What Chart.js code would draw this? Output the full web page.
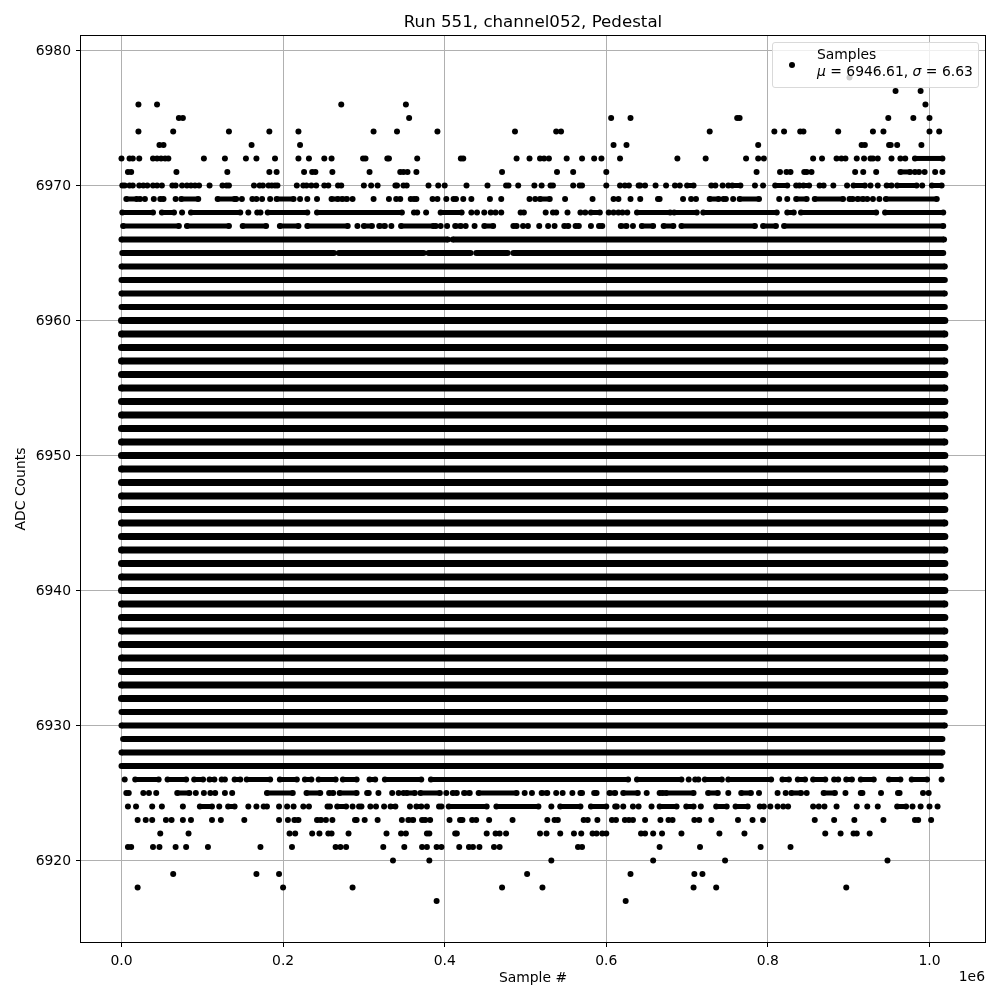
<!DOCTYPE html>
<html>
<head>
<meta charset="utf-8">
<title>Run 551, channel052, Pedestal</title>
<script src="https://cdn.jsdelivr.net/npm/chart.js@4/dist/chart.umd.min.js"></script>
<style>
  body { margin: 0; background: #fff; font-family: "DejaVu Sans", sans-serif; color: #000; }
  #wrap { position: relative; width: 1000px; height: 1000px; }
  #legend {
    position: absolute; left: 772px; top: 42px; width: 205px; height: 44px;
    background: rgba(255, 255, 255, 0.8); border: 1px solid #d9d9d9; border-radius: 3px;
    font-size: 13.9px; line-height: 17px;
  }
  #legend .dot { position: absolute; left: 16px; top: 19px; width: 6px; height: 6px; border-radius: 50%; background: #000; }
  #legend .txt { position: absolute; left: 44px; top: 3px; white-space: nowrap; }
  #offset { position: absolute; right: 15px; top: 968px; font-size: 13.9px; }
</style>
</head>
<body>
<div id="wrap">
  <canvas id="chart" width="1000" height="1000"></canvas>
  <div id="legend">
    <span class="dot"></span>
    <div class="txt">Samples<br><i>μ</i> = 6946.61, <i>σ</i> = 6.63</div>
  </div>
  <div id="offset">1e6</div>
</div>
<script>
// Sample positions are in thousands.
// A plain number is a lone dot, a pair [a, b] is a stretch where dots merge.
const xTicks = [0, 200000, 400000, 600000, 800000, 1000000];
const yTicks = [6920, 6930, 6940, 6950, 6960, 6970, 6980];

const adc6978 = [901];
const adc6977 = [958, 989];
const adc6976 = [21, 44, 272, 352, 995];
const adc6975 = [71, 76, 356, 606, 630, 762, 765, 949, 980, 1000];
const adc6974 = [21, 64, 133, 183, 219, 312, 341, 391, 487, 538, 544, 728, 808, 820, 840, 844, 887, 930, 943, 1000, 1012];
const adc6973 = [47, 52, 161, 221, 609, 625, 788, 916, 920, 950, 952, 960, 990];
const adc6972 = [0, 10, 14, 22, 39, 44, 49, 54, 58, 102, 128, 154, 167, 190, 219, 232, 251, 260, 299, 302, 329, 331, 366, 420, 423, 489, 505, 518, 523, 529, 551, 570, 585, 594, 617, 688, 723, 773, 788, 795, 856, 867, 885, 891, 896, 910, 919, 927, 930, 936, 953, 964, 970, [982, 1016]];
const adc6971 = [8, 12, 68, 131, 183, 192, 226, 236, 240, 261, 307, 345, 349, 354, 365, 471, 539, 559, 600, 786, 815, 823, 828, 845, 848, 854, 908, 918, 934, [964, 976], 982, 987, 994, 1007, 1016];
const adc6970 = [1, 4, 10, 14, 22, 27, 32, 39, 44, 50, 63, 67, 75, 81, 86, 91, 96, 109, 125, 130, 133, 164, 171, 175, 182, 186, 190, 193, 217, 225, 229, 235, 241, 251, 256, 268, 272, 300, 309, 317, 339, 341, 349, 353, 380, 392, 400, 427, 453, 476, 479, 491, 511, 520, 531, 534, 559, 567, 570, 600, 617, 623, 628, 640, 642, 648, 661, 674, 685, 691, [700, 708], 730, 735, 744, 751, [756, 766], 784, 794, [809, 824], [835, 839], [844, 851], [864, 869], 881, 898, [906, 920], 927, 936, [947, 953], [960, 984], 991, [1003, 1015]];
const adc6969 = [[6, 19], 23, 29, 40, [48, 52], 67, [74, 95], [119, 140], 142, 149, 162, 167, 174, 184, [192, 213], 221, 230, 242, [260, 268], [273, 279], 286, 312, 331, 340, 345, 358, 362, 365, 385, 391, 402, 411, 414, 423, 433, 456, 470, 505, 512, [518, 530], 549, 583, 609, 615, 630, 642, 664, 666, 695, 705, 711, [728, 739], 745, 748, 757, [765, 789], 814, 824, [835, 848], [858, 893], [901, 905], [911, 918], 923, 930, 938, [946, 1009]];
const adc6968 = [[1, 39], [50, 65], 75, [86, 147], 157, [168, 172], [181, 230], [242, 347], [362, 366], 377, [395, 421], 433, 440, 449, 457, 463, 470, [494, 498], 525, 534, 538, 552, 568, 574, [581, 592], 603, 609, 615, 620, 626, [638, 679], [684, 712], [720, 811], [824, 832], [841, 934], [945, 1017]];
const adc6967 = [[2, 71], [81, 133], [150, 179], [196, 219], [230, 280], 292, [300, 310], [319, 326], 334, [346, 386], 389, 395, 403, [413, 420], 426, 437, [449, 460], [485, 489], 497, 503, 517, 528, 536, [548, 553], [562, 566], 581, [591, 595], [618, 625], 633, [644, 658], [671, 683], [693, 784], [794, 810], [820, 1017]];
const adc6966 = [[0, 404], [410, 1018]];
const adc6965 = [[1, 263], [269, 374], [380, 432], [439, 478], [485, 1017]];
const adc6964 = [[0, 1019]];
const adc6963 = [[0, 1019]];
const adc6962 = [[0, 1019]];
const adc6961 = [[0, 1019]];
// rows 6932..6960 are solid from one end to the other
const solidRows = [6960, 6959, 6958, 6957, 6956, 6955, 6954, 6953, 6952, 6951, 6950, 6949, 6948, 6947, 6946, 6945, 6944, 6943, 6942, 6941, 6940, 6939, 6938, 6937, 6936, 6935, 6934, 6933, 6932];
const solidSpan = [[0, 1019]];
const adc6931 = [[0, 1019]];
const adc6930 = [[0, 1019]];
const adc6929 = [[2, 1016]];
const adc6928 = [[0, 1016]];
const adc6927 = [[0, 1014]];
const adc6926 = [4, [17, 46], [57, 80], [90, 101], [109, 115], [124, 128], [140, 147], [155, 184], [196, 217], [227, 235], [244, 265], [274, 291], [307, 314], [326, 371], [383, 627], [638, 693], 702, [710, 714], [722, 743], [751, 804], [818, 826], [837, 846], [856, 871], [882, 887], [897, 904], [915, 931], [950, 964], [978, 997], 1015];
const adc6925 = [6, 9, 27, 34, 43, [69, 84], 92, 102, 110, 116, 128, 137, [180, 212], [229, 246], [257, 262], [270, 291], [304, 306], 318, 335, 343, 349, [353, 363], [370, 394], 402, [410, 415], [424, 431], [442, 489], 499, 508, [520, 527], 538, 546, 558, [568, 570], [585, 588], [604, 611], [621, 639], 650, [666, 670], [674, 708], [726, 738], 751, [767, 779], 789, 812, 822, [829, 841], 848, [869, 883], 896, [915, 917], 940, [961, 963], 992, 999];
const adc6924 = [8, 18, 38, 50, 76, [97, 112], 121, [132, 140], 157, 167, [176, 180], 195, 205, 213, 225, 232, [255, 258], [267, 278], 286, 294, 297, 308, 315, 325, [333, 339], 357, [365, 371], 378, [393, 396], [405, 452], [464, 516], 532, [543, 568], [581, 600], [611, 613], 621, 633, 640, 656, [666, 687], [699, 708], 717, [736, 749], [760, 775], [790, 795], 803, 812, 819, 825, 856, 863, 870, 885, 910, 923, 936, [960, 971], 979, 989, 1000, 1010];
const adc6923 = [20, 30, 38, 55, 62, 76, 86, 112, 123, 152, 195, 206, [214, 219], [242, 247], 253, 261, [289, 291], 301, 317, 347, [355, 361], [372, 376], 382, 406, [419, 422], 434, 439, 455, 484, 527, 536, 540, 572, 577, 589, 607, 612, 623, 628, 633, 648, 667, 677, 682, 709, 715, 730, 763, 781, 794, 858, 882, 907, 943, 982, 986, 1002];
const adc6922 = [48, 83, 208, 215, 236, 245, 256, 260, 281, 328, 346, 352, 378, 381, 413, 415, 452, 463, 468, 476, 518, 526, 543, 560, 569, 583, 588, 595, 600, 643, 648, 658, 669, 693, 740, 771, 871, 890, 906, 910, 926];
const adc6921 = [8, 12, 39, 47, 67, 80, 107, 172, 211, 265, 271, 278, 324, 350, 372, 378, 390, 396, 418, 430, 435, 443, 461, 468, 565, 570, 666, 716, 791, 828];
const adc6920 = [336, 381, 532, 658, 747, 948];
const adc6919 = [64, 167, 195, 502, 630, 709, 719];
const adc6918 = [20, 200, 286, 471, 521, 708, 736, 897];
const adc6917 = [390, 624];

const rows = [
  [6978, adc6978], [6977, adc6977], [6976, adc6976], [6975, adc6975], [6974, adc6974],
  [6973, adc6973], [6972, adc6972], [6971, adc6971], [6970, adc6970], [6969, adc6969],
  [6968, adc6968], [6967, adc6967], [6966, adc6966], [6965, adc6965], [6964, adc6964],
  [6963, adc6963], [6962, adc6962], [6961, adc6961],
  ...solidRows.map(adc => [adc, solidSpan]),
  [6931, adc6931], [6930, adc6930], [6929, adc6929], [6928, adc6928], [6927, adc6927],
  [6926, adc6926], [6925, adc6925], [6924, adc6924], [6923, adc6923], [6922, adc6922],
  [6921, adc6921], [6920, adc6920], [6919, adc6919], [6918, adc6918], [6917, adc6917],
];

// Turn a row into line points, a null y breaks the line between stretches
function rowPoints(adc, marks) {
  const points = [];
  marks.forEach(mark => {
    const ends = Array.isArray(mark) ? mark : [mark];
    ends.forEach(k => points.push({ x: k * 1000, y: adc }));
    points.push({ x: ends[ends.length - 1] * 1000, y: null });
  });
  return points;
}

// merged dots pinch between each other, so sparse stretches read thinner than the dots
function rowWidth(adc) {
  if (adc >= 6932 && adc <= 6960) return 7;
  if ((adc >= 6961 && adc <= 6966) || (adc >= 6927 && adc <= 6931)) return 6;
  return 5;
}

const datasets = rows.map(([adc, marks]) => ({
  label: String(adc),
  data: rowPoints(adc, marks),
  borderColor: '#000',
  backgroundColor: '#000',
  borderWidth: rowWidth(adc),
  pointRadius: rowWidth(adc) === 7 ? 3.5 : 3,
  pointBorderWidth: 0,
  spanGaps: false,
  tension: 0,
}));

const frame = {
  id: 'frame',
  afterDraw(chart) {
    const { ctx, chartArea: a } = chart;
    ctx.save();
    ctx.strokeStyle = '#000';
    ctx.lineWidth = 1;
    ctx.strokeRect(a.left - 0.5, a.top - 0.5, a.right - a.left + 1, a.bottom - a.top + 1);
    ctx.restore();
  },
};

const axisFont = { family: '"DejaVu Sans"', size: 13.9 };

new Chart(document.getElementById('chart'), {
  type: 'line',
  data: { datasets },
  plugins: [frame],
  options: {
    responsive: false,
    animation: false,
    layout: { padding: { right: 15 } },
    plugins: {
      legend: { display: false },
      tooltip: { enabled: false },
      title: {
        display: true,
        text: 'Run 551, channel052, Pedestal',
        fullSize: false,
        color: '#000',
        font: { family: '"DejaVu Sans"', size: 16.67, weight: 'normal' },
        padding: { top: 13, bottom: 3 },
      },
    },
    scales: {
      x: {
        type: 'linear',
        min: -50100,
        max: 1068700,
        afterFit: scale => { scale.height = 58; },
        afterBuildTicks: scale => { scale.ticks = xTicks.map(value => ({ value })); },
        grid: { color: '#b0b0b0', lineWidth: 1, tickColor: '#000', tickLength: 5 },
        border: { display: false },
        ticks: { color: '#000', font: axisFont, padding: 6, maxRotation: 0, autoSkip: false, callback: v => (v / 1e6).toFixed(1) },
        title: { display: true, text: 'Sample #', color: '#000', font: axisFont, padding: { top: 0, bottom: 13.7 } },
      },
      y: {
        type: 'linear',
        min: 6913.96,
        max: 6981.07,
        afterFit: scale => { scale.width = 81; },
        afterBuildTicks: scale => { scale.ticks = yTicks.map(value => ({ value })); },
        grid: { color: '#b0b0b0', lineWidth: 1, tickColor: '#000', tickLength: 5 },
        border: { display: false },
        ticks: { color: '#000', font: axisFont, padding: 5, labelOffset: 1, autoSkip: false, callback: v => String(v) },
        title: { display: true, text: 'ADC Counts', color: '#000', font: axisFont, padding: { top: 12.7, bottom: 0 } },
      },
    },
  },
});
</script>
</body>
</html>
